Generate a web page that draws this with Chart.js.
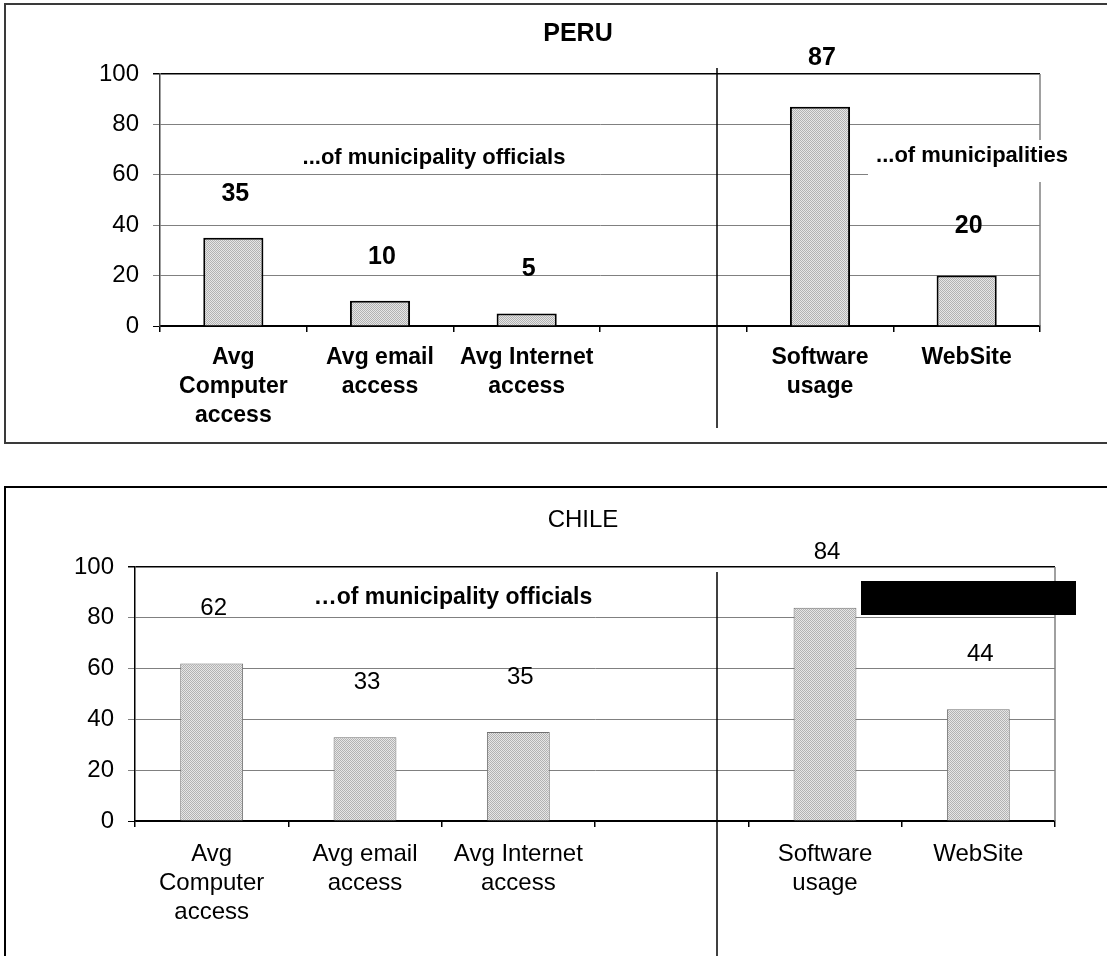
<!DOCTYPE html>
<html>
<head>
<meta charset="utf-8">
<script src="https://cdn.jsdelivr.net/npm/chart.js@4.4.1/dist/chart.umd.min.js"></script>
<style>
	html, body { margin: 0; padding: 0; background: #fff; overflow: hidden; }
	body { width: 1107px; height: 956px; position: relative; }
	.panel { position: absolute; box-sizing: border-box; }
	#peruBox { left: 4px; top: 3px; width: 1120px; height: 441px; border: 2px solid #3a3a3a; }
	#chileBox { left: 4px; top: 486px; width: 1120px; height: 520px; border: 2px solid #000; }
	canvas { position: absolute; left: 0; }
	#peruChart { top: 0; }
	#chileChart { top: 480px; }
</style>
</head>
<body>
<div class="panel" id="peruBox"></div>
<div class="panel" id="chileBox"></div>
<canvas id="peruChart" width="1107" height="443"></canvas>
<canvas id="chileChart" width="1107" height="476"></canvas>
<script>
(function () {
	'use strict';

	var categories = [['Avg', 'Computer', 'access'], ['Avg email', 'access'], ['Avg Internet', 'access'], '', ['Software', 'usage'], ['WebSite']];
	var peruValues = [35, 10, 5, null, 87, 20];
	var chileValues = [62, 33, 35, null, 84, 44];
	var yMin = 0;
	var yMax = 100;
	var yStep = 20;
	var peruTitle = 'PERU';
	var chileTitle = 'CHILE';
	var peruNotes = ['...of municipality officials', '...of municipalities'];
	var chileNotes = ['\u2026of municipality officials'];

	var FONT = '"Liberation Sans", Arial, Helvetica, sans-serif';

	// dotted grey fill like the old Excel bars
	function stipple() {
		var c = document.createElement('canvas');
		c.width = 2;
		c.height = 2;
		var x = c.getContext('2d');
		x.fillStyle = '#e6e6e6';
		x.fillRect(0, 0, 2, 2);
		x.fillStyle = '#b2b2b2';
		x.fillRect(0, 0, 1, 1);
		x.fillRect(1, 1, 1, 1);
		return x.createPattern(c, 'repeat');
	}

	var overlay = {
		id: 'overlay',
		afterDatasetsDraw: function (chart, args, o) {
			var ctx = chart.ctx;
			var area = chart.chartArea;
			var xs = chart.scales.x;
			ctx.save();

			// right side of the plot frame
			ctx.strokeStyle = '#808080';
			ctx.lineWidth = 1.5;
			ctx.beginPath();
			ctx.moveTo(area.right, area.top);
			ctx.lineTo(area.right, area.bottom);
			ctx.stroke();

			(o.boxes || []).forEach(function (b) {
				ctx.fillStyle = b.color;
				ctx.fillRect(b.x, b.y, b.w, b.h);
			});

			// line splitting officials / municipalities
			var step = xs.getPixelForValue(4) - xs.getPixelForValue(3);
			var sx = Math.round(xs.getPixelForValue(3) + step * 0.295);
			ctx.strokeStyle = '#000';
			ctx.lineWidth = 1.5;
			ctx.beginPath();
			ctx.moveTo(sx, o.sepTop);
			ctx.lineTo(sx, o.sepBottom);
			ctx.stroke();

			// values above bars
			var meta = chart.getDatasetMeta(0);
			var vals = chart.data.datasets[0].data;
			ctx.fillStyle = '#000';
			ctx.textAlign = 'center';
			ctx.textBaseline = 'middle';
			ctx.font = o.valueFont;
			meta.data.forEach(function (bar, i) {
				if (vals[i] == null) {
					return;
				}
				var off = i < 3 ? o.valueOffset[0] : o.valueOffset[1];
				ctx.fillText(String(vals[i]), bar.x + 2, bar.y - off);
			});

			(o.texts || []).forEach(function (t) {
				ctx.font = t.font;
				ctx.fillText(t.text, t.x, t.y);
			});
			ctx.restore();
		}
	};

	function gridColor(c) {
		return (c.tick && (c.tick.value === yMax || c.tick.value === yMin)) ? '#000' : '#808080';
	}

	function makeChart(el, values, o) {
		return new Chart(el, {
			type: 'bar',
			data: {
				labels: categories,
				datasets: [{
					data: values,
					backgroundColor: stipple(),
					borderColor: o.barBorder,
					borderWidth: o.barBorderWidth,
					categoryPercentage: 1,
					barPercentage: 0.41,
				}],
			},
			options: {
				responsive: false,
				animation: false,
				devicePixelRatio: 1,
				layout: { padding: { top: o.top, right: o.right, left: 0, bottom: 0 } },
				plugins: {
					legend: { display: false },
					tooltip: { enabled: false },
					overlay: o.overlay,
				},
				scales: {
					x: {
						grid: { display: true, drawOnChartArea: false, drawTicks: true, tickLength: 6, color: '#000', lineWidth: 1.5, offset: true },
						border: { display: true, color: '#000', width: o.zeroWidth },
						ticks: { autoSkip: false, maxRotation: 0, padding: o.xPad, color: '#000', font: o.xFont },
						afterFit: function (s) { s.height = o.xHeight; },
					},
					y: {
						min: yMin,
						max: yMax,
						ticks: { stepSize: yStep, padding: 14, color: '#000', font: { family: FONT, size: 24 } },
						grid: {
							color: gridColor,
							lineWidth: function (c) { return c.tick && c.tick.value === yMax ? 1.5 : 1; },
							tickLength: 7,
							drawTicks: true,
						},
						border: { display: true, color: o.axisColor, width: 1.5 },
						afterFit: function (s) { s.width = o.yWidth; },
					},
				},
			},
			plugins: [overlay],
		});
	}

	makeChart(document.getElementById('peruChart'), peruValues, {
		top: 74, right: 67, yWidth: 160, xHeight: 117, xPad: 11, zeroWidth: 2,
		barBorder: '#000', barBorderWidth: 2, axisColor: '#404040',
		xFont: { family: FONT, size: 23, weight: 'bold', lineHeight: 29 / 23 },
		overlay: {
			sepTop: 68, sepBottom: 428,
			valueFont: 'bold 25px ' + FONT,
			valueOffset: [44, 49],
			boxes: [{ x: 868, y: 140, w: 212, h: 42, color: '#fff' }],
			texts: [
				{ text: peruTitle, x: 578, y: 34, font: 'bold 25px ' + FONT },
				{ text: peruNotes[0], x: 434, y: 158, font: 'bold 22px ' + FONT },
				{ text: peruNotes[1], x: 972, y: 156, font: 'bold 22px ' + FONT },
			],
		},
	});

	makeChart(document.getElementById('chileChart'), chileValues, {
		top: 87, right: 52, yWidth: 135, xHeight: 135, xPad: 13, zeroWidth: 1.5,
		barBorder: '#707070', barBorderWidth: 1, axisColor: '#000',
		xFont: { family: FONT, size: 24, lineHeight: 29 / 24 },
		overlay: {
			sepTop: 92, sepBottom: 476,
			valueFont: '24px ' + FONT,
			valueOffset: [55, 55],
			boxes: [{ x: 861, y: 101, w: 215, h: 34, color: '#000' }],
			texts: [
				{ text: chileTitle, x: 583, y: 40, font: '24px ' + FONT },
				{ text: chileNotes[0], x: 453, y: 118, font: 'bold 23px ' + FONT },
			],
		},
	});
})();
</script>
</body>
</html>
